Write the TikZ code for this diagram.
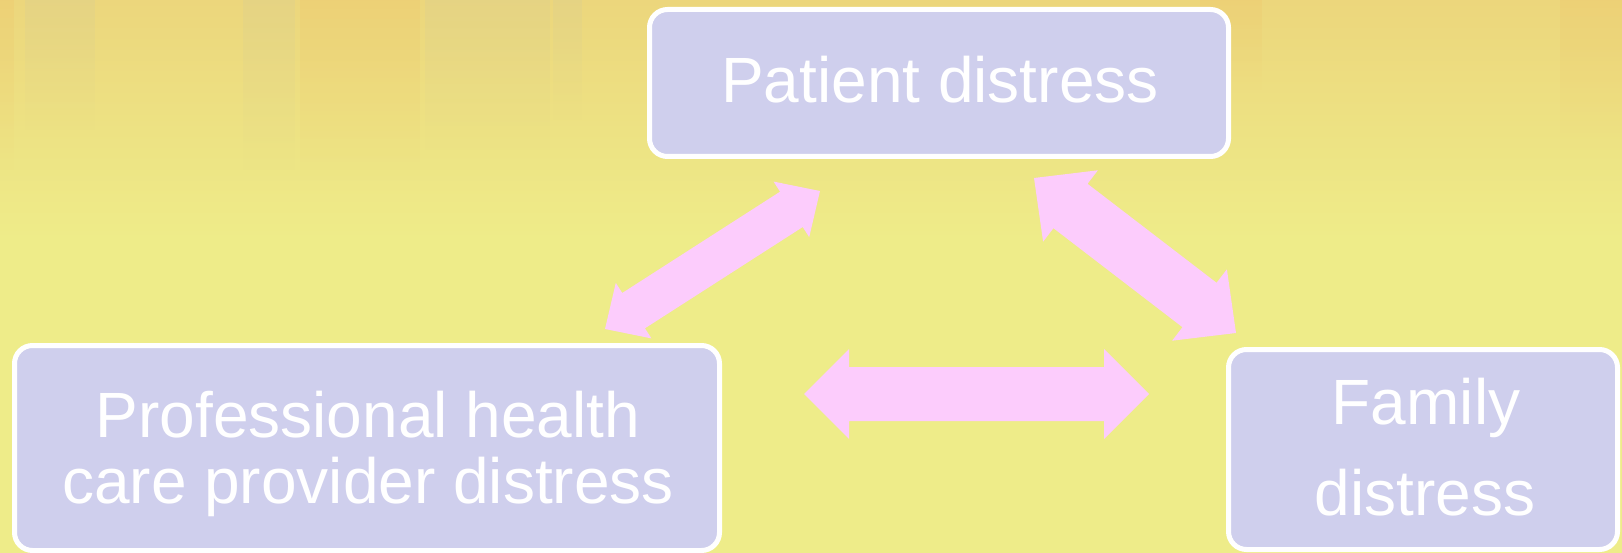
\documentclass[tikz,border=0pt]{standalone}
\usepackage{fontspec}
\setmainfont{Liberation Sans}
\usetikzlibrary{calc,fadings}
\definecolor{bgyellow}{RGB}{238,236,137}
\definecolor{bgtop}{RGB}{236,214,124}
\definecolor{boxfill}{RGB}{207,207,237}
\definecolor{pinkarrow}{RGB}{252,204,252}
\definecolor{streakorange}{RGB}{240,196,105}
\definecolor{streaktan}{RGB}{214,206,150}
\newcommand\dblblockarrow[5]{%
  \fill[arrowfill] (#1)
   -- ($($(#1)!#5!(#2)$)!#4!90:(#2)$)
   -- ($($(#1)!#5!(#2)$)!#3!90:(#2)$)
   -- ($($(#2)!#5!(#1)$)!#3!-90:(#1)$)
   -- ($($(#2)!#5!(#1)$)!#4!-90:(#1)$)
   -- (#2)
   -- ($($(#2)!#5!(#1)$)!#4!90:(#1)$)
   -- ($($(#2)!#5!(#1)$)!#3!90:(#1)$)
   -- ($($(#1)!#5!(#2)$)!#3!-90:(#2)$)
   -- ($($(#1)!#5!(#2)$)!#4!-90:(#2)$)
   -- cycle;}
\begin{document}
\begin{tikzpicture}[x=1pt,y=-1pt,
  boxnode/.style={draw=white, line width=5pt, fill=boxfill, rounded corners=18pt, inner sep=0pt, outer sep=0pt},
  txt/.style={text=white, font=\fontsize{64}{66}\selectfont, anchor=base, inner sep=0pt, outer sep=0pt},
  arrowfill/.style={fill=pinkarrow},
  streak/.style={path fading=south, fill opacity=0.28}]
% background
\useasboundingbox (0,0) rectangle (1622,553);
\fill[bgyellow] (0,0) rectangle (1622,553);
\shade[top color=bgtop, bottom color=bgyellow] (0,0) rectangle (1622,240);
\fill[streakorange, streak] (0,0) rectangle (14,170);
\fill[streaktan, streak] (25,0) rectangle (95,130);
\fill[streaktan, streak] (243,0) rectangle (295,170);
\fill[streakorange, streak] (300,0) rectangle (420,180);
\fill[streaktan, streak] (425,0) rectangle (550,150);
\fill[streaktan, streak] (553,0) rectangle (582,120);
\fill[streakorange, streak] (1200,0) rectangle (1262,90);
\fill[streakorange, streak] (1560,0) rectangle (1622,150);
% boxes
\node[boxnode, minimum width=579, minimum height=147] (patient) at (939,83) {};
\node[boxnode, minimum width=705, minimum height=205] (prof) at (367,448) {};
\node[boxnode, minimum width=389, minimum height=200] (family) at (1423,449.5) {};
% texts
\node[txt] (patientT) at (940,103) {Patient distress};
\node[txt] (profT1) at (368,437) {Professional health};
\node[txt] (profT2) at (368,503) {care provider distress};
\node[txt] (famT1) at (1426,424) {Family};
\node[txt] (famT2) at (1425,515) {distress};
% arrow end points
\coordinate (pp1) at (605,329);
\coordinate (pp2) at (820,191);
\coordinate (pf1) at (1034,178);
\coordinate (pf2) at (1236,333);
\coordinate (hf1) at (804,394);
\coordinate (hf2) at (1149,394);
\dblblockarrow{pp1}{pp2}{21pt}{33pt}{34pt}
\dblblockarrow{pf1}{pf2}{28pt}{45pt}{46pt}
\dblblockarrow{hf1}{hf2}{27pt}{45pt}{45pt}
\end{tikzpicture}
\end{document}
